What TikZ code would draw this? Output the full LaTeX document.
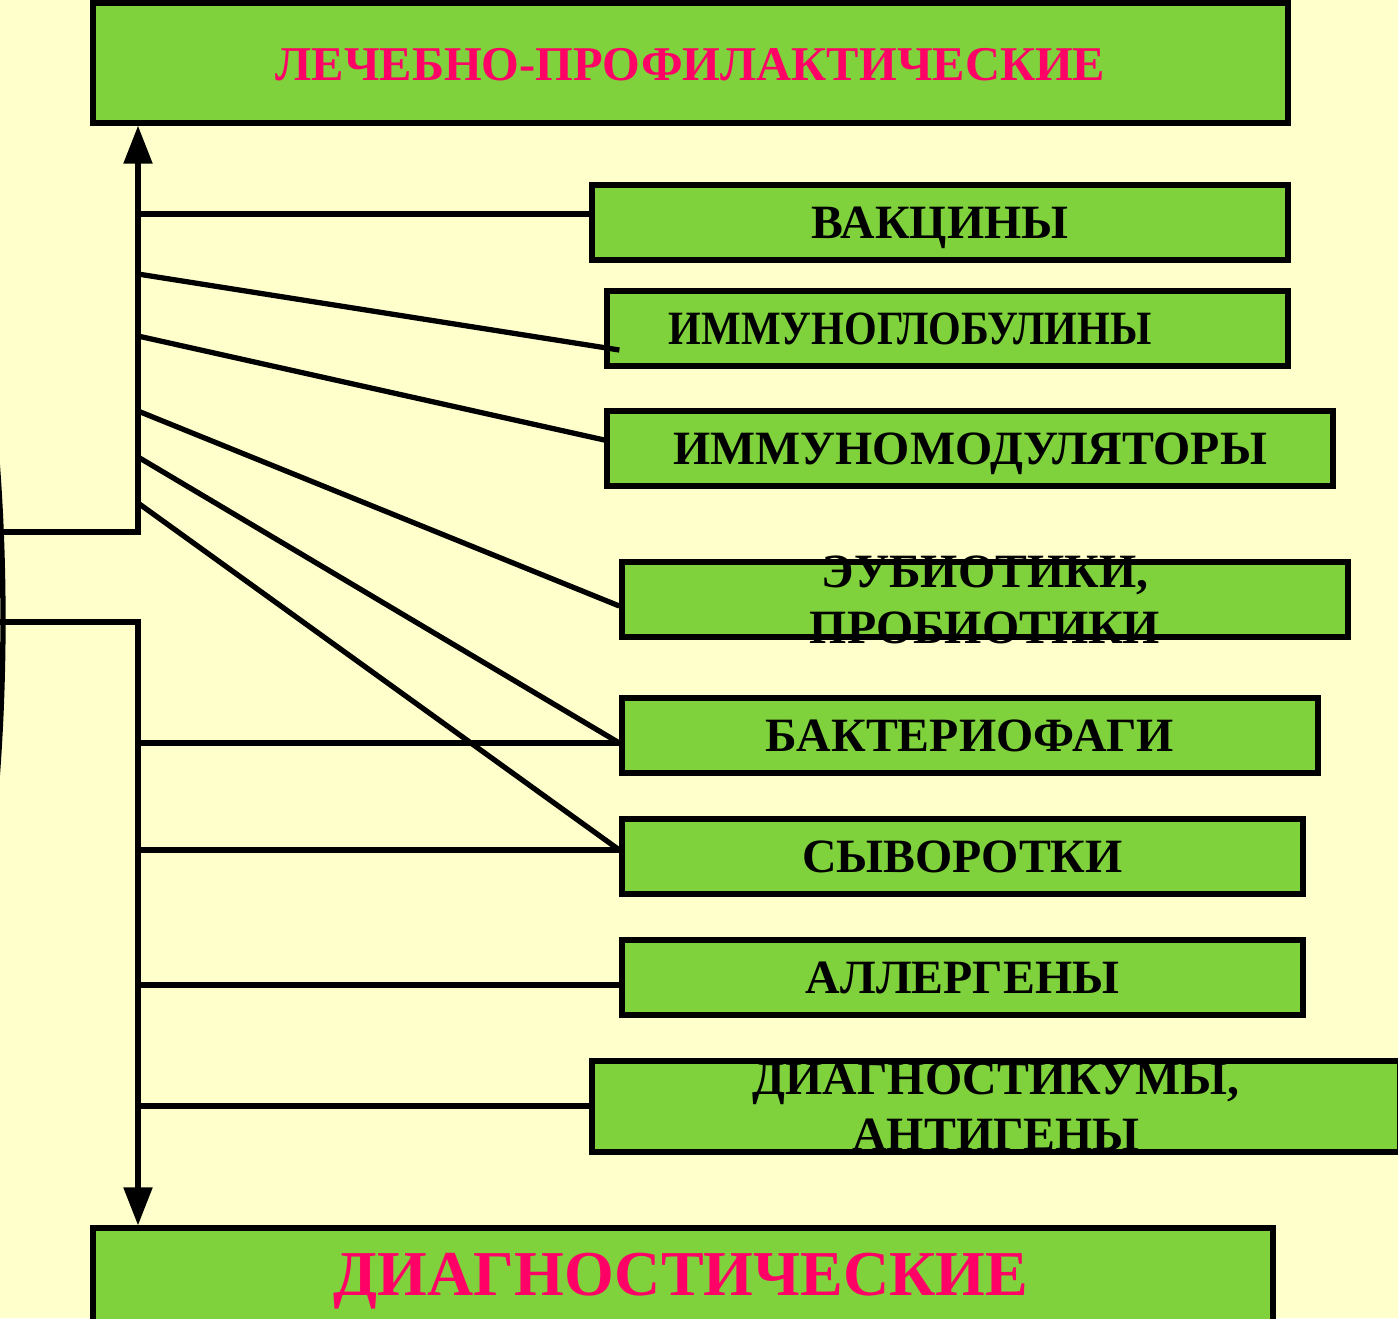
\documentclass[tikz,border=0pt]{standalone}
\usepackage{fontspec}
\setmainfont{Liberation Serif}
\usetikzlibrary{arrows.meta, positioning, calc}
\definecolor{bgyellow}{HTML}{FFFFCC}
\definecolor{boxgreen}{HTML}{80D23C}
\definecolor{titlered}{HTML}{FF0066}
\tikzset{
    itembox/.style={rectangle, draw, line width=1.5pt, fill=boxgreen, minimum height=0.75cm, inner sep=0pt},
    itemtext/.style={font=\fontsize{13.6}{16}\selectfont\bfseries, text height=9pt, text depth=0pt, inner sep=0pt, align=center},
    twoline/.style={text height=25pt},
    titletext/.style={font=\fontsize{13.8}{17}\selectfont\bfseries, text=titlered, text height=9.1pt, text depth=0pt, inner sep=0pt},
    link/.style={line width=1.5pt},
    arrowtip/.style={-{Triangle[length=3.8mm, width=2.8mm]}}
}

\begin{document}
\begin{tikzpicture}
    \useasboundingbox (0,0) rectangle (13.98,-13.18);
    \fill[bgyellow] (0,0) rectangle (13.98,-13.18);
    \clip (0,0) rectangle (13.98,-13.18);

    % main groups
    \node[itembox, minimum width=11.95cm, minimum height=1.20cm] (lp) at (6.905,-0.63) {};
    \node[titletext] at ([yshift=-0.015cm]lp.center) {ЛЕЧЕБНО-ПРОФИЛАКТИЧЕСКИЕ};
    \node[itembox, minimum width=11.80cm, minimum height=1.12cm] (dg) at (6.83,-12.84) {};
    \node[titletext, font=\fontsize{18.2}{22}\selectfont\bfseries, text height=12.1pt] at (6.81,-12.745) {ДИАГНОСТИЧЕСКИЕ};

    % preparations
    \node[itembox, minimum width=6.96cm] (vac) at (9.40,-2.225) {};
    \node[itemtext] at (vac) {ВАКЦИНЫ};
    \node[itembox, minimum width=6.81cm] (igl) at (9.475,-3.285) {};
    \node[itemtext] at ([xshift=-0.375cm]igl.center) {\scalebox{0.88}[1]{ИММУНОГЛОБУЛИНЫ}};
    \node[itembox, minimum width=7.26cm] (imod) at (9.70,-4.485) {};
    \node[itemtext] at (imod) {ИММУНОМОДУЛЯТОРЫ};
    \node[itembox, minimum width=7.26cm] (eub) at (9.85,-5.995) {};
    \node[itemtext, twoline] at (eub) {ЭУБИОТИКИ,\\ПРОБИОТИКИ};
    \node[itembox, minimum width=6.96cm] (phage) at (9.70,-7.355) {};
    \node[itemtext] at (phage) {БАКТЕРИОФАГИ};
    \node[itembox, minimum width=6.81cm] (ser) at (9.625,-8.565) {};
    \node[itemtext] at (ser) {СЫВОРОТКИ};
    \node[itembox, minimum width=6.81cm] (allerg) at (9.625,-9.775) {};
    \node[itemtext] at (allerg) {АЛЛЕРГЕНЫ};
    \node[itembox, minimum width=8.08cm, minimum height=0.91cm] (diagn) at (9.96,-11.065) {};
    \node[itemtext, twoline] at (diagn) {ДИАГНОСТИКУМЫ,\\АНТИГЕНЫ};

    % points on the spine
    \coordinate (hubtop) at (1.38,-5.32);
    \coordinate (hubbot) at (1.38,-6.22);
    \coordinate (s1) at (1.38,-2.14);
    \coordinate (s2) at (1.38,-2.74);
    \coordinate (s3) at (1.38,-3.36);
    \coordinate (s4) at (1.38,-4.11);
    \coordinate (s5) at (1.38,-4.57);
    \coordinate (s6) at (1.38,-5.03);
    \coordinate (h1) at (1.38,-7.43);
    \coordinate (h2) at (1.38,-8.50);
    \coordinate (h3) at (1.38,-9.85);
    \coordinate (h4) at (1.38,-11.06);

    % bracket and spine
    \draw[link] (-0.03,-4.60) .. controls (0.05,-5.65) and (0.05,-6.75) .. (-0.03,-7.80);
    \draw[link, arrowtip] (0,-5.32) -- (hubtop) -- (lp.south -| hubtop);
    \draw[link, arrowtip] (0,-6.22) -- (hubbot) -- (dg.north -| hubbot);

    \draw[link] (s1) -- (s1 -| vac.west);
    \draw[link] (s2) -- ([xshift=1.5mm, yshift=-2.15mm]igl.west);
    \draw[link] (s3) -- ([yshift=0.85mm]imod.west);
    \draw[link] (s4) -- ([yshift=-0.65mm]eub.west);
    \draw[link] (s5) -- (h1 -| phage.west);
    \draw[link] (s6) -- (h2 -| ser.west);
    \draw[link] (h1) -- (h1 -| phage.west);
    \draw[link] (h2) -- (h2 -| ser.west);
    \draw[link] (h3) -- (h3 -| allerg.west);
    \draw[link] (h4) -- (h4 -| diagn.west);
\end{tikzpicture}
\end{document}
